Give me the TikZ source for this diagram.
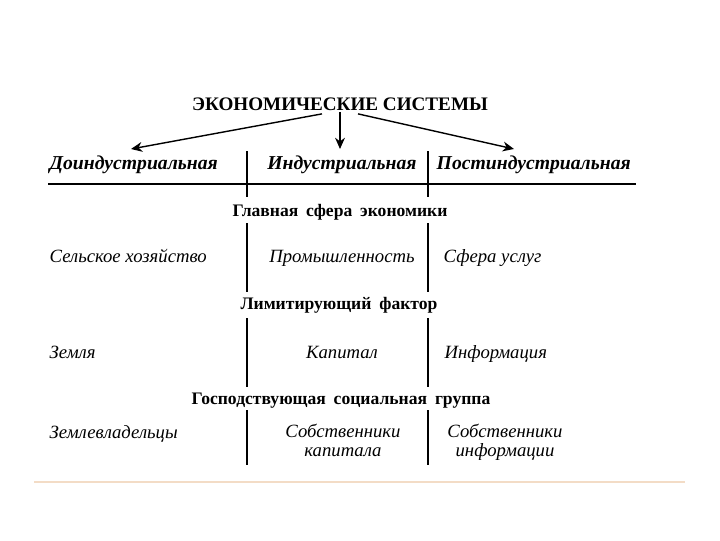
\documentclass[tikz,border=0pt]{standalone}
\usepackage{fontspec}
\setmainfont{Liberation Serif}
\usepackage{tikz}
\usetikzlibrary{arrows.meta,positioning}
\definecolor{rulePeach}{HTML}{F3DCC6}
\newcommand{\widegap}{\spaceskip=0.45em plus 0.1em\relax}

\begin{document}
\begin{tikzpicture}[x=0.025cm,y=-0.025cm,
    title/.style={font=\bfseries\fontsize{13.6}{15}\selectfont,inner sep=1pt},
    era/.style={font=\bfseries\itshape\fontsize{14}{15}\selectfont,inner sep=1pt},
    heading/.style={font=\bfseries\fontsize{12.5}{14}\selectfont\widegap,inner sep=1pt},
    item/.style={font=\itshape\fontsize{13.3}{13.5}\selectfont,inner sep=1pt,align=center},
    divider/.style={line width=1.4pt},
    arrow/.style={-{Stealth[length=8pt,width=7pt]},line width=1pt}]
    \useasboundingbox (0,0) rectangle (720,540);
    % заголовок и три типа
    \node[title,anchor=base] (systems) at (340,110) {ЭКОНОМИЧЕСКИЕ СИСТЕМЫ};
    \node[era,anchor=base west] (preind) at (48,169) {Доиндустриальная};
    \node[era,anchor=base] (ind) at (342,169) {Индустриальная};
    \node[era,anchor=base west] (postind) at (435,169) {Постиндустриальная};
    \coordinate (arrL) at (131,149);
    \coordinate (arrC) at (340,149);
    \coordinate (arrR) at (514,149);
    \draw[arrow] (systems.south)++(-18,2) -- (arrL);
    \draw[arrow] (systems.south) -- (arrC);
    \draw[arrow] (systems.south)++(18,2) -- (arrR);
    \draw[line width=1.6pt] (48,184) -- (636,184);
    % главная сфера экономики
    \node[heading,anchor=base] (sphere) at (340,216) {Главная сфера экономики};
    \node[item,anchor=base west] (agri) at (48,262) {Сельское хозяйство};
    \node[item,anchor=base] (industry) at (342,262) {Промышленность};
    \node[item,anchor=base west] (services) at (442,262) {Сфера услуг};
    % лимитирующий фактор
    \node[heading,anchor=base] (factor) at (339,309) {Лимитирующий фактор};
    \node[item,anchor=base west] (land) at (48,358) {Земля};
    \node[item,anchor=base] (capital) at (342,358) {Капитал};
    \node[item,anchor=base west] (info) at (443,358) {Информация};
    % господствующая группа
    \node[heading,anchor=base] (group) at (341,404) {Господствующая социальная группа};
    \node[item,anchor=base west] (landowners) at (48,438) {Землевладельцы};
    \node[item,anchor=north] (capowners) at (343,422) {Собственники\\капитала};
    \node[item,anchor=north] (infoowners) at (505,422) {Собственники\\информации};
    % вертикальные разделители
    \foreach \x in {247,428}
      \foreach \a/\b in {151/197,223/292,318/387,410/465}
        \draw[divider] (\x,\a) -- (\x,\b);
    \draw[rulePeach,line width=1.5pt] (34,482) -- (685,482);
\end{tikzpicture}
\end{document}
